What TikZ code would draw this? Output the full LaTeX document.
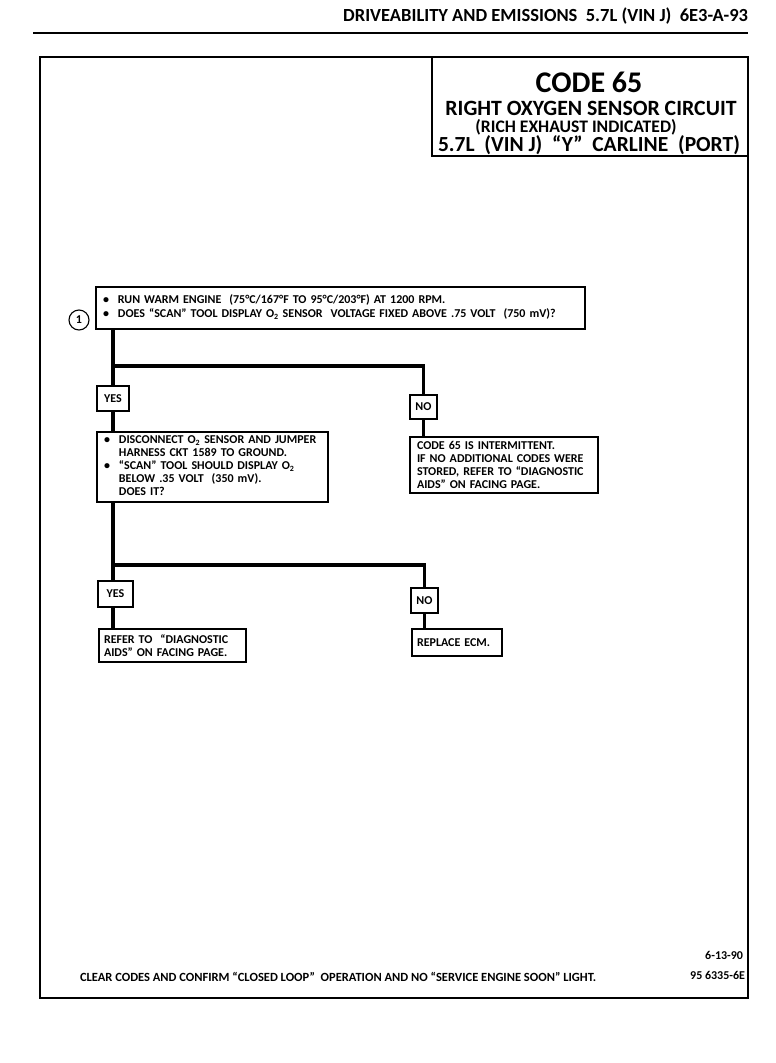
\documentclass[tikz,border=0pt]{standalone}
\usepackage{fontspec}
\setmainfont{Carlito}
\usepackage{tikz}
\usetikzlibrary{positioning}

\tikzset{
  qbox/.style={draw=black, line width=1.3pt, anchor=north west, align=left,
    inner xsep=7pt, inner ysep=0pt, font=\fontsize{12}{12.9}\selectfont\bfseries},
  ansbox/.style={draw=black, line width=1.3pt, anchor=north west, inner sep=0pt,
    font=\fontsize{12}{12}\selectfont\bfseries},
  flow/.style={draw=black, line width=3.5pt, line cap=butt},
  plain/.style={font=\fontsize{12.5}{13}\selectfont\bfseries, inner sep=0pt}
}

\begin{document}
\begin{tikzpicture}[x=1pt, y=1pt, yscale=-1, outer sep=0pt]
  \useasboundingbox (0,0) rectangle (776,1063);
  % page head
  \node[anchor=base east, inner sep=0pt, font=\fontsize{18.5}{19}\selectfont\bfseries]
    (head) at (748,21) {DRIVEABILITY AND EMISSIONS\ \ 5.7L\ (VIN J)\ \ 6E3-A-93};
  \path[draw=black, line width=2pt] (33,33) -- (748,33);
  % frame and title block
  \path[draw=black, line width=2.4pt] (40,57) rectangle (748,998);
  \path[draw=black, line width=2pt] (432,57) -- (432,156) -- (748,156);
  \node[anchor=base, inner sep=0pt, font=\fontsize{30}{31}\selectfont\bfseries]
    (code) at (589,92) {CODE 65};
  \node[anchor=base, inner sep=0pt, font=\fontsize{21.8}{22}\selectfont\bfseries]
    (title1) at (591,115) {RIGHT OXYGEN SENSOR CIRCUIT};
  \node[anchor=base, inner sep=0pt, font=\fontsize{17.6}{18}\selectfont\bfseries]
    (title2) at (576,132) {(RICH EXHAUST INDICATED)};
  \node[anchor=base, inner sep=0pt, font=\fontsize{21.5}{22}\selectfont\bfseries]
    (title3) at (589,151) {5.7L\ \ (VIN J)\ \ “Y”\ \ CARLINE\ \ (PORT)};

  % step 1
  \node[draw=black, line width=1.1pt, circle, minimum size=20pt, inner sep=0pt,
    font=\fontsize{12}{12}\selectfont\bfseries] (num1) at (79,320) {1};
  \node[qbox, text width=475pt, minimum height=42pt] (q1) at (96,287)
    {\begin{tabular}{@{}l@{\hspace{9pt}}l@{}}
      • & RUN WARM ENGINE\ \ (75°C/167°F TO 95°C/203°F) AT 1200 RPM.\\[1.5pt]
      • & DOES “SCAN” TOOL DISPLAY O\textsubscript{2} SENSOR\ \ VOLTAGE FIXED ABOVE .75 VOLT\ \ (750 mV)?
    \end{tabular}};
  \node[ansbox, minimum width=32pt, minimum height=25pt] (yes1) at (97,386) {YES};
  \node[ansbox, minimum width=27pt, minimum height=24pt] (no1) at (410,395) {NO};
  \coordinate (split1) at (113,366);
  \draw[flow] (q1.south -| split1) -- (split1) -- (yes1.north -| split1);
  \draw[flow] ([xshift=-1.75pt]split1) -| (no1.north);

  % step 2
  \node[qbox, text width=217pt, minimum height=70pt] (q2) at (97,432)
    {\begin{tabular}{@{}l@{\hspace{9pt}}l@{}}
      • & DISCONNECT O\textsubscript{2} SENSOR AND JUMPER\\
        & HARNESS CKT 1589 TO GROUND.\\
      • & “SCAN” TOOL SHOULD DISPLAY O\textsubscript{2}\\
        & BELOW .35 VOLT\ \ (350 mV).\\
        & DOES IT?
    \end{tabular}};
  \node[qbox, text width=174pt, minimum height=56pt] (q3) at (410,437)
    {CODE 65 IS INTERMITTENT.\\
     IF NO ADDITIONAL CODES WERE\\
     STORED, REFER TO “DIAGNOSTIC\\
     AIDS” ON FACING PAGE.};
  \draw[flow] (yes1.south -| split1) -- (q2.north -| split1);
  \draw[flow] (no1.south) -- (no1.south |- q3.north);

  % step 3
  \node[ansbox, minimum width=35pt, minimum height=26pt] (yes2) at (98,581) {YES};
  \node[ansbox, minimum width=27pt, minimum height=25pt] (no2) at (411,588) {NO};
  \coordinate (split2) at (113,565);
  \draw[flow] (q2.south -| split2) -- (split2) -- (yes2.north -| split2);
  \draw[flow] ([xshift=-1.75pt]split2) -| (no2.north);
  \node[qbox, inner xsep=5pt, text width=137pt, minimum height=33pt] (q4) at (99,629)
    {REFER TO\ \ “DIAGNOSTIC\\ AIDS” ON FACING PAGE.};
  \node[qbox, inner xsep=5pt, text width=80pt, minimum height=27pt] (q5) at (412,629)
    {REPLACE ECM.};
  \draw[flow] (yes2.south -| split2) -- (q4.north -| split2);
  \draw[flow] (no2.south) -- (no2.south |- q5.north);

  % foot
  \node[plain, anchor=base west] (foot) at (80,981)
    {CLEAR CODES AND CONFIRM “CLOSED LOOP”\ \ OPERATION AND NO “SERVICE ENGINE SOON” LIGHT.};
  \node[plain, anchor=base east, font=\fontsize{12}{12}\selectfont\bfseries] (date) at (743,959) {6-13-90};
  \node[plain, anchor=base east, font=\fontsize{12}{12}\selectfont\bfseries] (ref) at (745,979) {95 6335-6E};
\end{tikzpicture}
\end{document}
